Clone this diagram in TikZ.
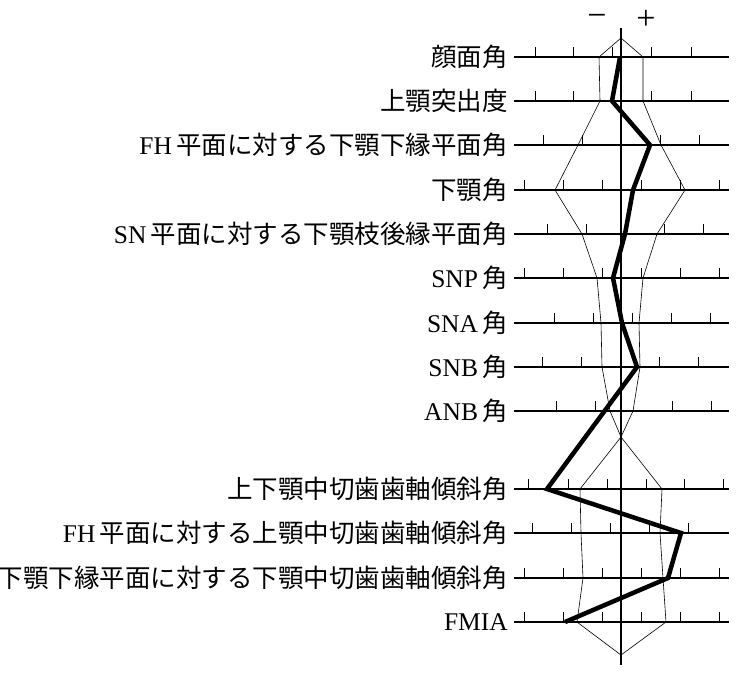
\documentclass[tikz,border=0pt]{standalone}
\usepackage{fontspec}
\setmainfont{Liberation Serif}
\newfontfamily\cjk{Noto Sans CJK JP}
\begin{document}
\begin{tikzpicture}[x=1pt,y=-1pt,
  row/.style={line width=1.3pt},
  tick/.style={line width=0.8pt},
  env/.style={line width=0.6pt},
  prof/.style={line width=4.5pt,line join=miter},
  lab/.style={anchor=east,font=\fontsize{25.5}{25.5}\selectfont,inner sep=0pt}]
\useasboundingbox (0,0) rectangle (741,681);
% axis
\coordinate (atop) at (621,28); \coordinate (abot) at (621,665);
\draw[row] (atop) -- (abot);
\node[font=\fontsize{34}{34}\selectfont] (mn) at (597,20) {−};
\node[font=\fontsize{34}{34}\selectfont] (pl) at (646,20) {+};
% rows
\foreach \y/\t in {57/{535,573,612,651,691},101/{535,573,612,651,691},145/{543,582,660,699},
 190/{524,563,602,641,680,719},234/{547,586,664,703},278/{524,563,602,641,680,719},
 323/{554,593,632,671,710},367/{542,581,659,698},411/{556,595,672,711},
 489/{528,568,607,646,684,723},533/{532,571,610,649,688},578/{524,563,602,641,680,719},
 622/{524,563,602,641,680,719}}{
  \draw[row] (514,\y) -- (729,\y);
  \foreach \x in \t {\draw[tick] (\x,\y) -- (\x,\y-10);}
}
% labels
\node[lab] (l1) at (508,57) {\cjk 顔面角};
\node[lab] (l2) at (508,101) {\cjk 上顎突出度};
\node[lab] (l3) at (508,145) {FH\,{\cjk 平面に対する下顎下縁平面角}};
\node[lab] (l4) at (508,190) {\cjk 下顎角};
\node[lab] (l5) at (508,234) {SN\,{\cjk 平面に対する下顎枝後縁平面角}};
\node[lab] (l6) at (508,278) {SNP\,{\cjk 角}};
\node[lab] (l7) at (508,323) {SNA\,{\cjk 角}};
\node[lab] (l8) at (508,367) {SNB\,{\cjk 角}};
\node[lab] (l9) at (508,411) {ANB\,{\cjk 角}};
\node[lab] (l10) at (508,489) {\cjk 上下顎中切歯歯軸傾斜角};
\node[lab] (l11) at (508,533) {FH\,{\cjk 平面に対する上顎中切歯歯軸傾斜角}};
\node[lab] (l12) at (508,578) {\cjk 下顎下縁平面に対する下顎中切歯歯軸傾斜角};
\node[lab] (l13) at (508,622) {FMIA};
% envelopes
\draw[env] (621,38) -- (599,57) -- (600,101) -- (578,145) -- (555,190) -- (582,234) -- (597,278) -- (601,323) -- (602,367) -- (610,411) -- (621,437) -- (662,489) -- (660,533) -- (663,578) -- (666,622) -- (621,655);
\draw[env] (621,38) -- (643,57) -- (643,101) -- (661,145) -- (685,190) -- (657,234) -- (643,278) -- (639,323) -- (640,367) -- (633,411) -- (621,437) -- (580,489) -- (581,533) -- (583,578) -- (577,622) -- (621,655);
% profile
\draw[prof] (620,57) -- (612,101) -- (650,145) -- (633,190) -- (625,234) -- (613,278) -- (622,323) -- (637,367) -- (547,489) -- (681,533) -- (668,578) -- (565,622);
\end{tikzpicture}
\end{document}
